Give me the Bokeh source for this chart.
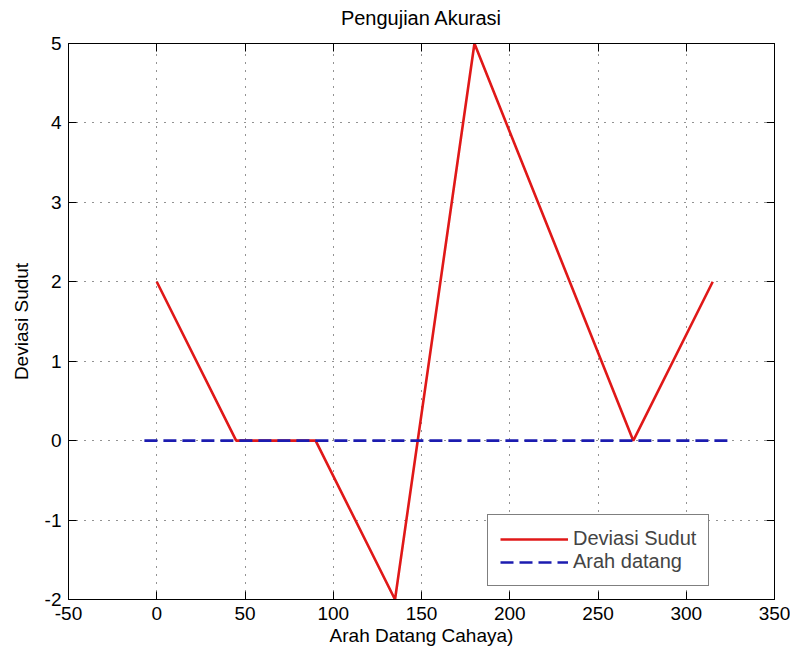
from bokeh.plotting import figure
from bokeh.models import (LinearAxis, Range1d, Legend, LegendItem, FixedTicker,
                          CustomLabelingPolicy)
from bokeh.embed import file_html
from bokeh.resources import INLINE

# Data
sudut = [0, 45, 90, 135, 180, 225, 270, 315]
deviasi = [2, 0, 0, -2, 5, 2.5, 0, 2]
arah_x = [-7, 325]
arah_y = [0, 0]
x_ticks = [-50, 0, 50, 100, 150, 200, 250, 300, 350]
y_ticks = [-2, -1, 0, 1, 2, 3, 4, 5]

FONT = "Liberation Sans"

p = figure(width=790, height=652, output_backend="svg", toolbar_location=None,
           x_range=Range1d(-50, 350), y_range=Range1d(-2, 5),
           min_border_left=68, min_border_right=8, min_border_top=43, min_border_bottom=53)

p.title.text = "Pengujian Akurasi"
p.title.align = "center"
p.title.text_font = FONT
p.title.text_font_size = "20px"
p.title.text_font_style = "normal"
p.title.text_color = "black"
p.title.standoff = 8

p.outline_line_color = "black"
p.outline_line_width = 1
p.background_fill_color = "white"
p.border_fill_color = "white"

for ax, ticks in ((p.xaxis[0], x_ticks), (p.yaxis[0], y_ticks)):
    ax.ticker = FixedTicker(ticks=ticks)
    ax.major_label_overrides = {t: str(t) for t in ticks}
    ax.major_tick_in = 8
    ax.major_tick_out = 0
    ax.minor_tick_line_color = None
    ax.axis_line_color = "black"
    ax.major_tick_line_color = "black"
    ax.major_label_text_font = FONT
    ax.major_label_text_font_size = "19px"
    ax.major_label_text_color = "black"
    ax.axis_label_text_font = FONT
    ax.axis_label_text_font_size = "19px"
    ax.axis_label_text_font_style = "normal"
    ax.axis_label_text_color = "black"

p.xaxis.axis_label = "Arah Datang Cahaya)"
p.yaxis.axis_label = "Deviasi Sudut"
p.xaxis.major_label_standoff = 7
p.yaxis.major_label_standoff = 7
p.xaxis.axis_label_standoff = 2
p.yaxis.axis_label_standoff = 10

# mirrored axes (ticks only, no labels)
no_labels = """
const result = new Set()
return result
"""
ax_r = LinearAxis(ticker=FixedTicker(ticks=y_ticks), major_tick_in=8, major_tick_out=0,
                  minor_tick_line_color=None, major_label_standoff=0,
                  major_label_policy=CustomLabelingPolicy(code=no_labels),
                  axis_line_color="black")
ax_t = LinearAxis(ticker=FixedTicker(ticks=x_ticks), major_tick_in=8, major_tick_out=0,
                  minor_tick_line_color=None, major_label_standoff=0,
                  major_label_policy=CustomLabelingPolicy(code=no_labels),
                  axis_line_color="black")
p.add_layout(ax_r, "right")
p.add_layout(ax_t, "above")

for g in (p.xgrid[0], p.ygrid[0]):
    g.grid_line_color = "black"
    g.grid_line_alpha = 0.85
    g.grid_line_dash = "1 7"
    g.grid_line_width = 1
p.xgrid.ticker = FixedTicker(ticks=x_ticks)
p.ygrid.ticker = FixedTicker(ticks=y_ticks)

r1 = p.line(sudut, deviasi, line_color="#e01818", line_width=2.6)
r2 = p.line(arah_x, arah_y, line_color="#1c1cb0", line_width=2.6, line_dash="13 6")

legend = Legend(items=[LegendItem(label="Deviasi Sudut", renderers=[r1]),
                       LegendItem(label="Arah datang", renderers=[r2])],
                location=(419, 13), glyph_width=68, glyph_height=22,
                label_text_font=FONT, label_text_font_size="20px",
                label_standoff=5, padding=12, spacing=0, margin=0,
                border_line_color="black", border_line_width=1,
                background_fill_alpha=1.0)
p.add_layout(legend, "center")

open("out.html", "w").write(file_html(p, INLINE))
